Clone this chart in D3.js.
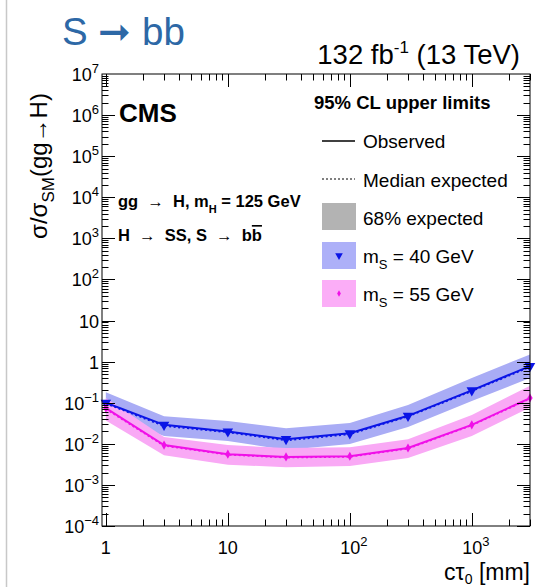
<!DOCTYPE html>
<html>
<head>
<meta charset="utf-8">
<script src="https://cdn.jsdelivr.net/npm/d3@7"></script>
<style>
  body { margin: 0; background: #fff; }
  text { font-family: "Liberation Sans", Arial, sans-serif; }
</style>
</head>
<body>
<div id="chart"></div>
<script>
// c*tau0 points [mm]
var ctau = [1, 3, 10, 30, 100, 300, 1000, 3000];

// mS = 40 GeV
var obs40 = [0.10, 0.029, 0.020, 0.013, 0.018, 0.048, 0.20, 0.78];
var exp40 = [0.095, 0.027, 0.019, 0.012, 0.017, 0.046, 0.19, 0.74];
var hi40  = [0.18, 0.047, 0.036, 0.024, 0.032, 0.088, 0.40, 1.5];
var lo40  = [0.053, 0.0155, 0.0117, 0.0071, 0.0099, 0.0256, 0.11, 0.40];

// mS = 55 GeV
var obs55 = [0.074, 0.0093, 0.0056, 0.0048, 0.0050, 0.0079, 0.029, 0.13];
var exp55 = [0.070, 0.0089, 0.0054, 0.0046, 0.0048, 0.0076, 0.028, 0.125];
var hi55  = [0.13, 0.0147, 0.0093, 0.0079, 0.0083, 0.013, 0.050, 0.26];
var lo55  = [0.037, 0.0053, 0.0031, 0.0027, 0.0029, 0.0045, 0.0155, 0.077];

var yTicks = [1e-4, 1e-3, 1e-2, 1e-1, 1, 10, 1e2, 1e3, 1e4, 1e5, 1e6, 1e7];
var yTickLabels = [["10","−4"],["10","−3"],["10","−2"],["10","−1"],["1",""],["10",""],
                   ["10","2"],["10","3"],["10","4"],["10","5"],["10","6"],["10","7"]];
var xTicks = [1, 10, 100, 1000];
var xTickLabels = [["1",""],["10",""],["10","2"],["10","3"]];

var W = 536, H = 587;
var L = 102, R = 530, T = 74, B = 526;

var svg = d3.select("#chart").append("svg")
    .attr("width", W).attr("height", H);

// slide border line
svg.append("line").attr("x1", 6.5).attr("x2", 6.5).attr("y1", 0).attr("y2", H)
    .attr("stroke", "#c8c8c8").attr("stroke-width", 1.5);

var x = d3.scaleLog().domain([0.93, 3000]).range([L, R]);
var y = d3.scaleLog().domain([1e-4, 1e7]).range([B, T]);

// bands
function bandArea(lo, hi) {
    return d3.area()
        .x(function(d, i) { return x(ctau[i]); })
        .y0(function(d, i) { return y(lo[i]); })
        .y1(function(d, i) { return y(hi[i]); })(ctau);
}
svg.append("path").attr("d", bandArea(lo40, hi40)).attr("fill", "#a9acf5");
svg.append("path").attr("d", bandArea(lo55, hi55)).attr("fill", "#f9a9f5");

var line = function(vals) {
    return d3.line()
        .x(function(d, i) { return x(ctau[i]); })
        .y(function(d, i) { return y(vals[i]); })(ctau);
};

var series = [
    {obs: obs40, exp: exp40, color: "#0a14e6", sym: d3.symbolTriangle, rot: 180, size: 48},
    {obs: obs55, exp: exp55, color: "#f010e8", sym: d3.symbolDiamond, rot: 0, size: 24}
];
series.forEach(function(s) {
    svg.append("path").attr("d", line(s.exp)).attr("fill", "none")
        .attr("stroke", s.color).attr("stroke-width", 1.5).attr("stroke-dasharray", "2,2.5");
    svg.append("path").attr("d", line(s.obs)).attr("fill", "none")
        .attr("stroke", s.color).attr("stroke-width", 2);
    svg.selectAll(null).data(ctau).enter().append("path")
        .attr("d", d3.symbol().type(s.sym).size(s.size))
        .attr("transform", function(d, i) {
            return "translate(" + x(d) + "," + y(s.obs[i]) + ") rotate(" + s.rot + ")";
        })
        .attr("fill", s.color);
});

// frame
svg.append("rect").attr("x", L).attr("y", T).attr("width", R - L).attr("height", B - T)
    .attr("fill", "none").attr("stroke", "#000").attr("stroke-width", 1);

// ticks
var tk = svg.append("g").attr("stroke", "#000").attr("stroke-width", 1);
var yMinor = [];
for (var e = -4; e < 7; e++) for (var m = 1; m < 10; m++) yMinor.push(m * Math.pow(10, e));
yMinor.forEach(function(v) {
    var major = yTicks.indexOf(v) >= 0;
    var len = major ? 13 : 6.5;
    var yy = Math.round(y(v)) + 0.5;
    tk.append("line").attr("x1", L).attr("x2", L + len).attr("y1", yy).attr("y2", yy);
    tk.append("line").attr("x1", R).attr("x2", R - len).attr("y1", yy).attr("y2", yy);
});
var xMinor = [];
for (var e2 = 0; e2 < 4; e2++) for (var m2 = 1; m2 < 10; m2++) {
    var v2 = m2 * Math.pow(10, e2);
    if (v2 <= 3000) xMinor.push(v2);
}
xMinor.forEach(function(v) {
    var major = xTicks.indexOf(v) >= 0;
    var len = major ? 13 : 6.5;
    var xx = Math.round(x(v)) + 0.5;
    tk.append("line").attr("x1", xx).attr("x2", xx).attr("y1", B).attr("y2", B - len);
    tk.append("line").attr("x1", xx).attr("x2", xx).attr("y1", T).attr("y2", T + len);
});

// tick labels
yTicks.forEach(function(v, i) {
    var t = svg.append("text").attr("x", L - 3).attr("y", y(v) + 7)
        .attr("text-anchor", "end").attr("font-size", 18);
    t.append("tspan").text(yTickLabels[i][0]);
    if (yTickLabels[i][1]) t.append("tspan").attr("font-size", 13).attr("dy", -8).text(yTickLabels[i][1]);
});
xTicks.forEach(function(v, i) {
    var t = svg.append("text").attr("x", x(v) + (xTickLabels[i][1] ? 4 : 0)).attr("y", 554)
        .attr("text-anchor", "middle").attr("font-size", 18);
    t.append("tspan").text(xTickLabels[i][0]);
    if (xTickLabels[i][1]) t.append("tspan").attr("font-size", 13).attr("dy", -8).text(xTickLabels[i][1]);
});

// axis titles
var xt = svg.append("text").attr("x", R).attr("y", 580).attr("text-anchor", "end").attr("font-size", 23);
xt.append("tspan").text("cτ");
xt.append("tspan").attr("font-size", 14).attr("dy", 4).text("0");
xt.append("tspan").attr("dy", -4).text(" [mm]");

var yt = svg.append("text").attr("transform", "translate(47,166) rotate(-90)")
    .attr("text-anchor", "middle").attr("font-size", 24);
yt.append("tspan").text("σ/σ");
yt.append("tspan").attr("font-size", 17).attr("dy", 7).text("SM");
yt.append("tspan").attr("dy", -7).text("(gg→H)");

// header texts
svg.append("text").attr("x", 62).attr("y", 45).attr("font-size", 38.5).attr("fill", "#2d68a6")
    .text("S ➞ bb");
var lumi = svg.append("text").attr("x", 520).attr("y", 64).attr("text-anchor", "end").attr("font-size", 27.5);
lumi.append("tspan").text("132 fb");
lumi.append("tspan").attr("font-size", 17).attr("dy", -11).text("-1");
lumi.append("tspan").attr("dy", 11).text(" (13 TeV)");

svg.append("text").attr("x", 119).attr("y", 122).attr("font-size", 26).attr("font-weight", "bold").text("CMS");
var p1 = svg.append("text").attr("x", 118).attr("y", 207).attr("font-size", 16.5).attr("font-weight", "bold")
    .attr("xml:space", "preserve");
p1.append("tspan").text("gg  →  H, m");
p1.append("tspan").attr("font-size", 11).attr("dy", 6).text("H");
p1.append("tspan").attr("dy", -6).text(" = 125 GeV");
var p2 = svg.append("text").attr("x", 118).attr("y", 241).attr("font-size", 16.5).attr("font-weight", "bold")
    .attr("xml:space", "preserve");
p2.append("tspan").text("H  →  SS, S  →  b");
p2.append("tspan").style("text-decoration", "overline").text("b");

// legend
svg.append("text").attr("x", 314).attr("y", 109).attr("font-size", 18.5).attr("font-weight", "bold")
    .text("95% CL upper limits");
var lx = 322, tx = 363, fs = 19;
svg.append("line").attr("x1", lx).attr("x2", lx + 33).attr("y1", 141).attr("y2", 141)
    .attr("stroke", "#000").attr("stroke-width", 1.5);
svg.append("text").attr("x", tx).attr("y", 148).attr("font-size", fs).text("Observed");
svg.append("line").attr("x1", lx).attr("x2", lx + 33).attr("y1", 179).attr("y2", 179)
    .attr("stroke", "#000").attr("stroke-width", 1).attr("stroke-dasharray", "2,2");
svg.append("text").attr("x", tx).attr("y", 187).attr("font-size", fs).text("Median expected");
svg.append("rect").attr("x", lx).attr("y", 203).attr("width", 34).attr("height", 27).attr("fill", "#b3b3b3");
svg.append("text").attr("x", tx).attr("y", 225).attr("font-size", fs).text("68% expected");

var legS = [
    {y: 242, fill: "#adb0f8", color: "#0a14e6", sym: d3.symbolTriangle, rot: 180, size: 25, m: "40"},
    {y: 280, fill: "#fbadf7", color: "#f010e8", sym: d3.symbolDiamond, rot: 0, size: 12, m: "55"}
];
legS.forEach(function(s) {
    svg.append("rect").attr("x", lx).attr("y", s.y).attr("width", 34).attr("height", 27).attr("fill", s.fill);
    svg.append("path").attr("d", d3.symbol().type(s.sym).size(s.size)())
        .attr("transform", "translate(" + (lx + 17) + "," + (s.y + 13.5) + ") rotate(" + s.rot + ")")
        .attr("fill", s.color);
    var t = svg.append("text").attr("x", tx).attr("y", s.y + 21).attr("font-size", fs);
    t.append("tspan").text("m");
    t.append("tspan").attr("font-size", 13).attr("dy", 6).text("S");
    t.append("tspan").attr("dy", -6).text(" = " + s.m + " GeV");
});
</script>
</body>
</html>
